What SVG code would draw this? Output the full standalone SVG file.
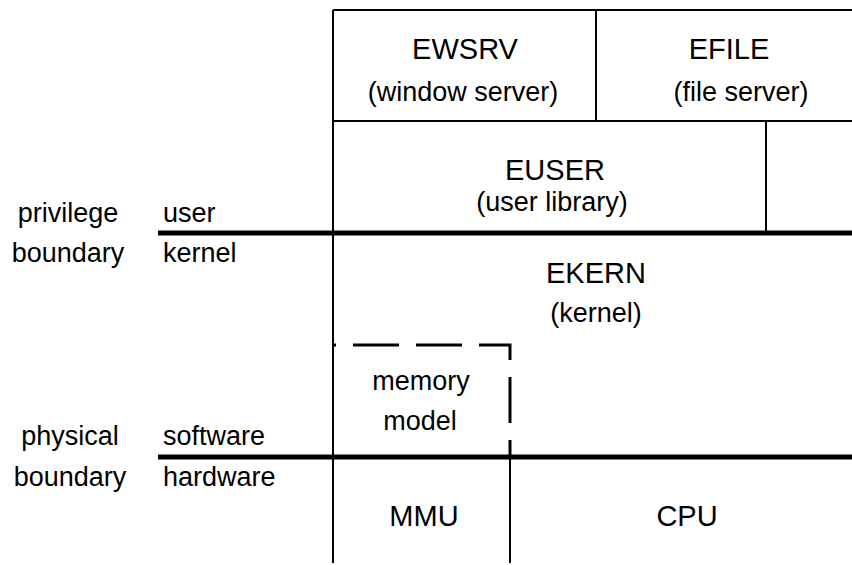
<svg xmlns="http://www.w3.org/2000/svg" width="852" height="565" viewBox="0 0 852 565">
<style>
text{font-family:"Liberation Sans",Arial,sans-serif;fill:#000;}
.t{font-size:29px;text-anchor:middle;}
.s{font-size:27px;text-anchor:middle;}
.l{font-size:27px;}
.ln{stroke:#000;stroke-width:2;fill:none;}
.thick{stroke:#000;stroke-width:5;fill:none;}
.dash{stroke:#000;stroke-width:3;fill:none;stroke-dasharray:46 17;stroke-dashoffset:43;}
</style>
<rect width="852" height="565" fill="#fff"/>
<g id="lines">
<line class="ln" x1="333" y1="10" x2="333" y2="563"/>
<line class="ln" x1="333" y1="10" x2="852" y2="10"/>
<line class="ln" x1="596" y1="10" x2="596" y2="121"/>
<line class="ln" x1="333" y1="121" x2="852" y2="121"/>
<line class="ln" x1="766" y1="121" x2="766" y2="233"/>
<line class="thick" x1="158" y1="233" x2="852" y2="233"/>
<line class="thick" x1="158" y1="457" x2="852" y2="457"/>
<line class="ln" x1="510" y1="457" x2="510" y2="563"/>
</g>
<g id="ewsrv"><text class="t" x="465" y="59">EWSRV</text><text class="s" x="463" y="101">(window server)</text></g>
<g id="efile"><text class="t" x="729" y="59">EFILE</text><text class="s" x="741" y="101">(file server)</text></g>
<g id="euser"><text class="t" x="555" y="180">EUSER</text><text class="s" x="552" y="211">(user library)</text></g>
<g id="ekern"><text class="t" x="596" y="283">EKERN</text><text class="s" x="596" y="322">(kernel)</text></g>
<g id="memory-model"><path class="dash" d="M333 345 H510 V457"/><text class="s" x="421" y="390">memory</text><text class="s" x="420" y="430">model</text></g>
<g id="mmu"><text class="t" x="424" y="526">MMU</text></g>
<g id="cpu"><text class="t" x="687" y="526">CPU</text></g>
<g id="privilege-boundary"><text class="s" x="68" y="222">privilege</text><text class="s" x="68" y="262">boundary</text><text class="l" x="163" y="222">user</text><text class="l" x="163" y="262">kernel</text></g>
<g id="physical-boundary"><text class="s" x="70" y="445">physical</text><text class="s" x="70" y="486">boundary</text><text class="l" x="163" y="445">software</text><text class="l" x="163" y="486">hardware</text></g>
</svg>
